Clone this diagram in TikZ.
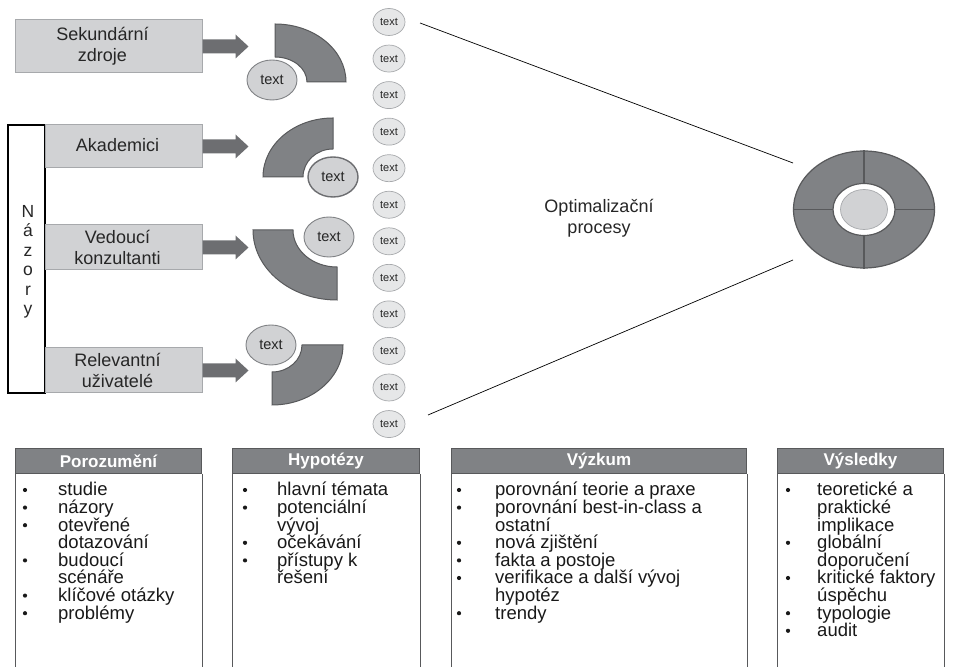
\documentclass[tikz,border=0pt]{standalone}
\usepackage{fontspec}
\setmainfont{Liberation Sans}
\usetikzlibrary{calc,shapes.geometric}
\definecolor{boxfill}{HTML}{D1D2D4}
\definecolor{boxline}{HTML}{A7A9AC}
\definecolor{arrowc}{HTML}{6D6E71}
\definecolor{ringc}{HTML}{808285}
\definecolor{ringline}{HTML}{58595B}
\definecolor{bubfill}{HTML}{E6E7E8}
\newcommand\blockarr[1]{%
  \fill[arrowc] ($(#1.east)+(0,7)$) -- ($(#1.east)+(33,7)$) -- ($(#1.east)+(33,12)$) -- ($(#1.east)+(46,0)$) -- ($(#1.east)+(33,-12)$) -- ($(#1.east)+(33,-7)$) -- ($(#1.east)+(0,-7)$) -- cycle;}
\begin{document}
\begin{tikzpicture}[x=1pt,y=1pt,
  srcbox/.style={draw=boxline, fill=boxfill, line width=1pt, inner sep=0pt},
  srctext/.style={font=\fontsize{18}{20.5}\selectfont, align=center, text=black!85},
  ring/.style={fill=ringc, draw=ringline, line width=1pt},
  oval/.style={ellipse, fill=boxfill, draw=ringc, line width=0.9pt, minimum width=50pt, minimum height=40pt, inner sep=0pt, font=\fontsize{14.5}{16}\selectfont, text=black!85},
  bubble/.style={ellipse, fill=bubfill, draw=boxline, line width=0.7pt, minimum width=32pt, minimum height=27pt, inner sep=0pt, font=\fontsize{11}{12}\selectfont, text=black!85},
  hdr/.style={draw=ringline, fill=ringc, line width=1pt, anchor=north west, minimum height=25pt, inner sep=0pt, font=\fontsize{17}{18}\selectfont\bfseries, text=white},
  side/.style={draw=ringline, line width=1pt},
  item/.style={anchor=base west, inner sep=0pt, font=\fontsize{18.5}{18}\selectfont, text=black!90},
  dot/.style={circle, fill=black!90, inner sep=0pt, minimum size=4.2pt},
  thinline/.style={draw=black, line width=0.7pt}
]
\useasboundingbox (0,0) rectangle (957,666);
\clip (0,0) rectangle (957,666);

% Nazory bracket
\draw[black, line width=1.5pt] (8,273) rectangle (45,541);
\node[align=center, font=\fontsize{17.5}{19.5}\selectfont, text=black!85, inner sep=0pt] (naz) at (28,404) {N\\á\\z\\o\\r\\y};

% source boxes
\node[srcbox, minimum width=187pt, minimum height=53pt] (b1) at (108.5,619.5) {};
\node[srcbox, minimum width=157pt, minimum height=43pt] (b2) at (123.5,519.5) {};
\node[srcbox, minimum width=157pt, minimum height=45pt] (b3) at (123.5,418.5) {};
\node[srcbox, minimum width=157pt, minimum height=45pt] (b4) at (123.5,295.5) {};
\node[srctext] (t1) at ($(b1)+(-6,0)$) {Sekundární\\zdroje};
\node[srctext] (t2) at ($(b2)+(-6,1)$) {Akademici};
\node[srctext] (t3) at ($(b3)+(-6,0)$) {Vedoucí\\konzultanti};
\node[srctext] (t4) at ($(b4)+(-6,0)$) {Relevantní\\uživatelé};

\blockarr{b1}
\blockarr{b2}
\blockarr{b3}
\blockarr{b4}

% quarter rings
\draw[ring] (275,642) arc[start angle=90, end angle=0, x radius=71pt, y radius=58pt] -- (307,584) arc[start angle=0, end angle=90, x radius=32pt, y radius=25pt] -- cycle;
\draw[ring] (333,548) arc[start angle=90, end angle=180, x radius=70pt, y radius=59pt] -- (303,489) arc[start angle=180, end angle=90, x radius=30pt, y radius=28pt] -- cycle;
\draw[ring] (253,436) arc[start angle=180, end angle=270, x radius=84pt, y radius=70pt] -- (337,399) arc[start angle=270, end angle=180, x radius=44pt, y radius=37pt] -- cycle;
\draw[ring] (343,321) arc[start angle=0, end angle=-90, x radius=71pt, y radius=60pt] -- (272,294) arc[start angle=-90, end angle=0, x radius=30pt, y radius=27pt] -- cycle;

\node[oval] (e1) at (272,586) {text};
\node[oval, draw=arrowc, line width=1.4pt] (e2) at (333,489) {text};
\node[oval] (e3) at (329,429) {text};
\node[oval] (e4) at (271,321) {text};

% bubbles
\foreach \i in {0,...,11} \node[bubble] (q\i) at (389,{644-36.55*\i}) {text};

% wheel
\node[ellipse, fill=ringc, draw=ringline, line width=1.2pt, minimum width=141pt, minimum height=117pt, inner sep=0pt] (wheel) at (864,456.5) {};
\draw[ringline, line width=1.2pt] (wheel.north) -- (wheel.south);
\draw[ringline, line width=1.2pt] (wheel.west) -- (wheel.east);
\node[ellipse, fill=white, draw=ringline, line width=1.2pt, minimum width=62pt, minimum height=52pt, inner sep=0pt] (hub) at (wheel) {};
\node[ellipse, fill=boxfill, draw=boxline, line width=0.7pt, minimum width=47pt, minimum height=40pt, inner sep=0pt] (core) at (wheel) {};

\coordinate (l1a) at (420,643);
\coordinate (l1b) at (793,503);
\coordinate (l2a) at (428,251);
\coordinate (l2b) at (793,406);
\draw[thinline] (l1a) -- (l1b);
\draw[thinline] (l2a) -- (l2b);

\node[srctext] (opt) at (599,448) {Optimalizační\\procesy};

% bottom boxes
\node[hdr, minimum width=186pt] (h1) at (15,218) {Porozumění};
\node[hdr, minimum width=187pt] (h2) at (232,218) {Hypotézy};
\node[hdr, minimum width=295pt] (h3) at (451,218) {Výzkum};
\node[hdr, minimum width=166pt] (h4) at (777,218) {Výsledky};
\foreach \h in {h1,h2,h3,h4} {
  \draw[side] (\h.south west) -- ++(0,-210);
  \draw[side] (\h.south east) -- ++(0,-210);
}

% items
\foreach \t [count=\i] in {studie,názory,otevřené,dotazování,budoucí,scénáře,klíčové otázky,problémy}
  \node[item] (p\i) at (58,{170-17.6*(\i-1)}) {\t};
\foreach \i in {1,2,3,5,7,8}
  \node[dot] (pb\i) at (25,{176-17.6*(\i-1)}) {};

\foreach \t [count=\i] in {hlavní témata,potenciální,vývoj,očekávání,přístupy k,řešení}
  \node[item] (y\i) at (277,{170-17.6*(\i-1)}) {\t};
\foreach \i in {1,2,4,5}
  \node[dot] (yb\i) at (245,{176-17.6*(\i-1)}) {};

\foreach \t [count=\i] in {porovnání teorie a praxe,porovnání best-in-class a,ostatní,nová zjištění,fakta a postoje,verifikace a další vývoj,hypotéz,trendy}
  \node[item] (v\i) at (495,{170-17.6*(\i-1)}) {\t};
\foreach \i in {1,2,4,5,6,8}
  \node[dot] (vb\i) at (459,{176-17.6*(\i-1)}) {};

\foreach \t [count=\i] in {teoretické a,praktické,implikace,globální,doporučení,kritické faktory,úspěchu,typologie,audit}
  \node[item] (r\i) at (817,{170-17.6*(\i-1)}) {\t};
\foreach \i in {1,4,6,8,9}
  \node[dot] (rb\i) at (788,{176-17.6*(\i-1)}) {};
\end{tikzpicture}
\end{document}
